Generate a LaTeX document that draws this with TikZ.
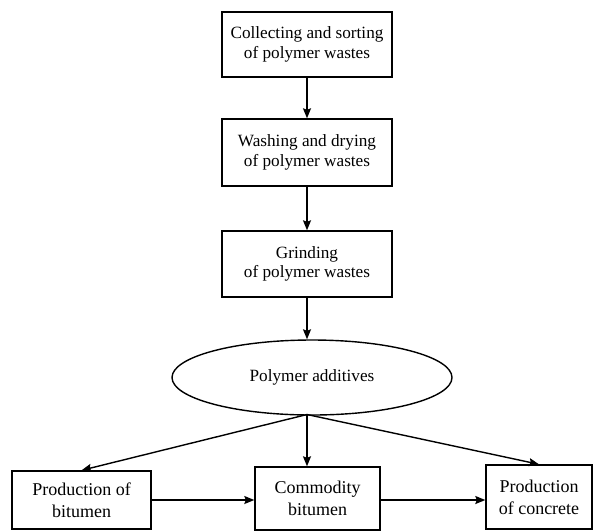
\documentclass[tikz,border=0pt]{standalone}
\usepackage{fontspec}
\setmainfont{Liberation Serif}
\usetikzlibrary{arrows.meta,shapes.geometric}
\begin{document}
\begin{tikzpicture}[x=1pt,y=-1pt,
  stepbox/.style={draw,line width=1.4pt,inner sep=0pt,align=center,
    font=\fontsize{17.2}{19.5}\selectfont},
  lowbox/.style={draw,line width=1.4pt,inner sep=0pt,align=center,
    font=\fontsize{18}{22}\selectfont},
  oval/.style={draw,ellipse,line width=1.4pt,inner sep=0pt,
    font=\fontsize{17.2}{19.5}\selectfont},
  flow/.style={line width=1.4pt,-{Stealth[length=10pt,width=8pt,inset=1.5pt]}}]
\useasboundingbox (0,0) rectangle (593,531);
\node[stepbox,minimum width=170pt,minimum height=65pt] (b1) at (307,44.5)
  {Collecting and sorting\\of polymer wastes};
\node[stepbox,minimum width=170pt,minimum height=67pt] (b2) at (307,152.5)
  {Washing and drying\\of polymer wastes};
\node[stepbox,minimum width=170pt,minimum height=66pt] (b3) at (307,264)
  {Grinding\\of polymer wastes};
\node[oval,minimum width=280pt,minimum height=75pt] (el) at (312,377.5)
  {Polymer additives};
\node[lowbox,minimum width=139pt,minimum height=58pt] (lb) at (81.5,500)
  {Production of\\bitumen};
\node[lowbox,minimum width=125pt,minimum height=63pt] (mb) at (317.5,498.5)
  {Commodity\\bitumen};
\node[lowbox,minimum width=106pt,minimum height=64pt] (rb) at (539,497)
  {Production\\of concrete};
\coordinate (s) at (307,414.5);
\coordinate (h) at (0,500);
\draw[flow] (b1.south) -- (b2.north);
\draw[flow] (b2.south) -- (b3.north);
\draw[flow] (b3.south) -- (b3.south |- el.north);
\draw[flow] (s) -- (lb.north);
\draw[flow] (s) -- (s |- mb.north);
\draw[flow] (s) -- (rb.north);
\draw[flow] (lb.east |- h) -- (mb.west |- h);
\draw[flow] (mb.east |- h) -- (rb.west |- h);
\end{tikzpicture}
\end{document}
